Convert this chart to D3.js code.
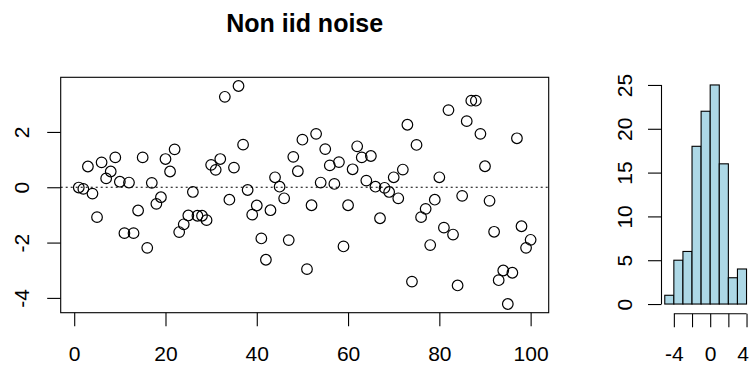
<!DOCTYPE html>
<html>
<head>
<meta charset="utf-8">
<script src="https://cdn.jsdelivr.net/npm/d3@7"></script>
<style>
  html, body { margin: 0; padding: 0; background: #fff; }
  svg text { font-family: "Liberation Sans", Arial, Helvetica, sans-serif; fill: #000; }
</style>
</head>
<body>
<svg id="chart" width="751" height="366"></svg>
<script>
// ---- data ----
const title = "Non iid noise";
const noise = [
  -0.01, -0.06, 0.75, -0.23, -1.08, 0.90, 0.32, 0.57, 1.08, 0.20,
  -1.66, 0.17, -1.66, -0.84, 1.08, -2.19, 0.16, -0.60, -0.36, 1.02,
  0.57, 1.37, -1.62, -1.34, -1.02, -0.17, -1.03, -1.03, -1.19, 0.81,
  0.63, 1.02, 3.27, -0.45, 0.71, 3.66, 1.54, -0.10, -0.99, -0.66,
  -1.85, -2.62, -0.83, 0.36, 0.02, -0.40, -1.91, 1.10, 0.58, 1.72,
  -2.96, -0.65, 1.93, 0.17, 1.38, 0.79, 0.12, 0.91, -2.14, -0.65,
  0.65, 1.48, 1.08, 0.24, 1.13, 0.02, -1.12, -0.02, -0.17, 0.36,
  -0.40, 0.64, 2.26, -3.41, 1.53, -1.08, -0.78, -2.09, -0.45, 0.36,
  -1.46, 2.79, -1.71, -3.55, -0.31, 2.39, 3.13, 3.13, 1.93, 0.76,
  -0.49, -1.61, -3.36, -3.01, -4.22, -3.09, 1.77, -1.41, -2.19, -1.90
];
const xTicks = [0, 20, 40, 60, 80, 100];
const yTicks = [-4, -2, 0, 2];
const yTickLabels = ["-4", "-2", "0", "2"];
const histBreaks = [-5, -4, -3, -2, -1, 0, 1, 2, 3, 4];
const histYTicks = [0, 5, 10, 15, 20, 25];
const histXTicks = [-4, -2, 0, 2, 4];
const histXLabels = ["-4", "", "0", "", "4"];

// ---- layout ----
const svg = d3.select("#chart");
const FS = 21;
const TICK = 13.5;
const main = { left: 60.7, right: 548.7, top: 77.3, bottom: 312.7 };
const hist = { left: 661.5, right: 749.8, top: 76.2, bottom: 312.8 };
const LABEL_BASE = 361.5;

function rExt(lo, hi) { const p = 0.04 * (hi - lo); return [lo - p, hi + p]; }

const idx = noise.map((d, i) => i + 1);
const x = d3.scaleLinear().domain(rExt(1, noise.length)).range([main.left, main.right]);
const yExt = d3.extent(noise);
const y = d3.scaleLinear().domain(rExt(yExt[0], yExt[1])).range([main.bottom, main.top]);

// title
svg.append("text")
  .attr("x", (main.left + main.right) / 2)
  .attr("y", 31.5)
  .attr("text-anchor", "middle")
  .style("font-size", "25px")
  .style("font-weight", "bold")
  .text(title);

// zero dotted line
svg.append("line")
  .attr("x1", main.left).attr("x2", main.right)
  .attr("y1", y(0)).attr("y2", y(0))
  .attr("stroke", "#000").attr("stroke-width", 1.1)
  .attr("stroke-dasharray", "2,3");

// points
svg.append("g").selectAll("circle")
  .data(noise)
  .join("circle")
  .attr("cx", (d, i) => x(idx[i]))
  .attr("cy", d => y(d))
  .attr("r", 5.3)
  .attr("fill", "none")
  .attr("stroke", "#000")
  .attr("stroke-width", 1.2);

// box
svg.append("rect")
  .attr("x", main.left).attr("y", main.top)
  .attr("width", main.right - main.left).attr("height", main.bottom - main.top)
  .attr("fill", "none").attr("stroke", "#000").attr("stroke-width", 1.1);

// x axis
const gx = svg.append("g").attr("transform", `translate(0,${main.bottom})`)
  .call(d3.axisBottom(x).tickValues(xTicks).tickSize(TICK).tickSizeOuter(0).tickFormat(d3.format("d")));
gx.select(".domain").remove();
gx.selectAll("line").attr("stroke", "#000").attr("stroke-width", 1.1);
gx.selectAll("text").attr("y", LABEL_BASE - main.bottom).attr("dy", 0).style("font-size", FS + "px").attr("fill", "#000");

// y axis
const gy = svg.append("g").attr("transform", `translate(${main.left},0)`)
  .call(d3.axisLeft(y).tickValues(yTicks).tickSize(TICK).tickSizeOuter(0)
    .tickFormat((d, i) => yTickLabels[i]));
gy.select(".domain").remove();
gy.selectAll("line").attr("stroke", "#000").attr("stroke-width", 1.1);
gy.selectAll("text")
  .attr("x", 0).attr("y", 0).attr("dy", 0)
  .attr("text-anchor", "middle")
  .attr("transform", "translate(-31.5,0) rotate(-90)")
  .style("font-size", FS + "px").attr("fill", "#000");

// ---- histogram ----
const hx = d3.scaleLinear().domain(rExt(histBreaks[0], histBreaks[histBreaks.length - 1])).range([hist.left, hist.right]);
const bins = d3.bin().domain([histBreaks[0], histBreaks[histBreaks.length - 1]])
  .thresholds(histBreaks.slice(1, -1))(noise);
const hy = d3.scaleLinear().domain(rExt(0, 25)).range([hist.bottom, hist.top]);

svg.append("g").selectAll("rect")
  .data(bins)
  .join("rect")
  .attr("x", d => hx(d.x0))
  .attr("width", d => hx(d.x1) - hx(d.x0))
  .attr("y", d => hy(d.length))
  .attr("height", d => hy(0) - hy(d.length))
  .attr("fill", "#ADD8E6")
  .attr("stroke", "#000")
  .attr("stroke-width", 1.1);

// hist y axis
const hgy = svg.append("g").attr("transform", `translate(${hist.left},0)`)
  .call(d3.axisLeft(hy).tickValues(histYTicks).tickSize(TICK).tickSizeOuter(0).tickFormat(d3.format("d")));
hgy.select(".domain").remove();
hgy.append("line")
  .attr("x1", 0).attr("x2", 0)
  .attr("y1", hy(histYTicks[0])).attr("y2", hy(histYTicks[histYTicks.length - 1]))
  .attr("stroke", "#000").attr("stroke-width", 1.1);
hgy.selectAll(".tick line").attr("stroke", "#000").attr("stroke-width", 1.1);
hgy.selectAll("text")
  .attr("x", 0).attr("y", 0).attr("dy", 0)
  .attr("text-anchor", "middle")
  .attr("transform", "translate(-30,0) rotate(-90)")
  .style("font-size", FS + "px").attr("fill", "#000");

// hist x axis
const hgx = svg.append("g").attr("transform", `translate(0,${hist.bottom + 1})`)
  .call(d3.axisBottom(hx).tickValues(histXTicks).tickSize(TICK).tickSizeOuter(0)
    .tickFormat((d, i) => histXLabels[i]));
hgx.select(".domain").remove();
hgx.append("line")
  .attr("x1", hx(histXTicks[0])).attr("x2", hx(histXTicks[histXTicks.length - 1]))
  .attr("y1", 0).attr("y2", 0)
  .attr("stroke", "#000").attr("stroke-width", 1.1);
hgx.selectAll(".tick line").attr("stroke", "#000").attr("stroke-width", 1.1);
hgx.selectAll("text")
  .attr("y", LABEL_BASE - hist.bottom - 1).attr("dy", 0)
  .attr("dx", (d, i) => (i === histXTicks.length - 1 ? -4 : 0))
  .style("font-size", FS + "px").attr("fill", "#000");
</script>
</body>
</html>
